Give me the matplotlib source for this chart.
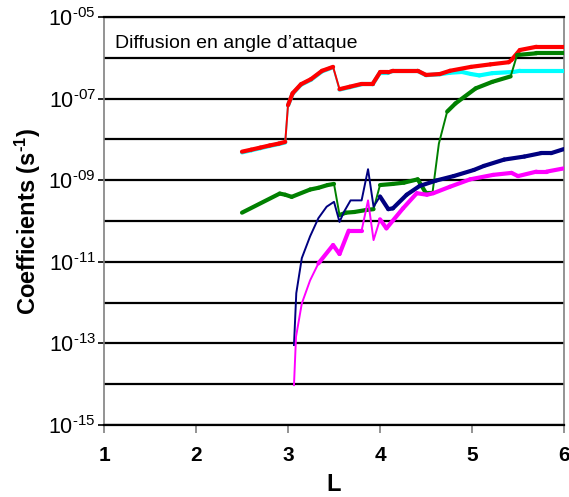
import matplotlib
matplotlib.use("Agg")
import matplotlib.pyplot as plt
from matplotlib.collections import LineCollection
from matplotlib.ticker import FixedLocator, NullFormatter
import numpy as np

plt.rcParams['font.family'] = ['Liberation Sans', 'DejaVu Sans']
plt.rcParams['mathtext.fontset'] = 'custom'
plt.rcParams['mathtext.rm'] = 'Liberation Sans'
plt.rcParams['mathtext.bf'] = 'Liberation Sans:bold'
plt.rcParams['mathtext.default'] = 'regular'

# values (coefficient in s^-1 versus L)
red_L = [2.50, 2.60, 2.70, 2.80, 2.90, 2.97, 3.00, 3.05, 3.14, 3.25, 3.37, 3.49,
         3.56, 3.67, 3.80, 3.92, 4.00, 4.09, 4.14, 4.41, 4.50, 4.65, 4.76, 4.99,
         5.20, 5.40, 5.43, 5.52, 5.70, 6.00]
red_v = [5.0e-9, 5.6e-9, 6.3e-9, 7.1e-9, 7.9e-9, 8.7e-9, 6.9e-8, 1.35e-7, 2.24e-7,
         3.0e-7, 4.8e-7, 6.0e-7, 1.70e-7, 1.95e-7, 2.29e-7, 2.29e-7, 4.4e-7, 4.4e-7,
         4.8e-7, 4.8e-7, 3.8e-7, 4.0e-7, 4.8e-7, 6.0e-7, 6.9e-7, 7.8e-7, 8.9e-7,
         1.55e-6, 1.86e-6, 1.86e-6]

cyan_L = [2.50, 2.60, 2.70, 2.80, 2.90, 2.97, 3.00, 3.05, 3.14, 3.25, 3.37, 3.49,
          3.56, 3.67, 3.80, 3.92, 4.00, 4.09, 4.14, 4.41, 4.50, 4.65, 4.76, 4.89,
          4.99, 5.08, 5.22, 5.45, 5.52, 6.00]
cyan_v = [4.8e-9, 5.4e-9, 6.1e-9, 6.9e-9, 7.7e-9, 8.4e-9, 6.8e-8, 1.32e-7, 2.18e-7,
          2.9e-7, 4.65e-7, 5.85e-7, 1.66e-7, 1.9e-7, 2.24e-7, 2.24e-7, 4.35e-7,
          4.35e-7, 4.75e-7, 4.75e-7, 3.75e-7, 3.95e-7, 4.3e-7, 4.5e-7, 4.0e-7,
          3.7e-7, 4.2e-7, 4.5e-7, 4.8e-7, 4.8e-7]

green_L = [2.50, 2.91, 2.97, 3.04, 3.24, 3.33, 3.43, 3.50, 3.56, 3.63, 3.72, 3.85,
           3.93, 4.00, 4.14, 4.26, 4.41, 4.50, 4.57, 4.64, 4.73, 4.82, 5.04, 5.22,
           5.42, 5.49, 5.70, 6.00]
green_v = [1.6e-10, 4.7e-10, 4.4e-10, 3.9e-10, 5.9e-10, 6.5e-10, 7.6e-10, 8.1e-10,
           1.4e-10, 1.6e-10, 1.66e-10, 1.86e-10, 1.95e-10, 7.6e-10, 8.1e-10, 8.7e-10,
           1.05e-9, 4.8e-10, 4.8e-10, 7.9e-9, 4.8e-8, 7.6e-8, 1.78e-7, 2.57e-7,
           3.5e-7, 1.17e-6, 1.29e-6, 1.29e-6]

navy_L = [3.065, 3.09, 3.15, 3.24, 3.33, 3.42, 3.50, 3.56, 3.61, 3.68, 3.80, 3.87,
          3.93, 4.00, 4.09, 4.14, 4.29, 4.43, 4.61, 4.80, 5.02, 5.13, 5.35, 5.57,
          5.75, 5.86, 6.00]
navy_v = [9.1e-14, 1.7e-12, 1.23e-11, 4.2e-11, 1.17e-10, 2.24e-10, 2.95e-10,
          9.5e-11, 1.7e-10, 3.2e-10, 3.2e-10, 1.86e-9, 2.24e-10, 4.0e-10, 1.95e-10,
          2.04e-10, 4.4e-10, 7.2e-10, 9.8e-10, 1.26e-9, 1.78e-9, 2.24e-9, 3.2e-9,
          3.8e-9, 4.6e-9, 4.6e-9, 5.8e-9]

mag_L = [3.065, 3.087, 3.15, 3.24, 3.33, 3.49, 3.56, 3.66, 3.80, 3.87, 3.93, 4.00,
         4.07, 4.25, 4.40, 4.51, 4.58, 4.76, 4.98, 5.23, 5.43, 5.50, 5.70, 5.81, 6.00]
mag_v = [9.5e-15, 1.45e-13, 9.5e-13, 3.5e-12, 9.1e-12, 2.57e-11, 1.55e-11, 5.8e-11,
         5.8e-11, 3.2e-10, 3.4e-11, 1.1e-10, 6.6e-11, 2.04e-10, 4.8e-10, 4.4e-10,
         4.8e-10, 6.9e-10, 1.05e-9, 1.35e-9, 1.51e-9, 1.26e-9, 1.62e-9, 1.62e-9,
         1.95e-9]

label_exps = [-15, -13, -11, -9, -7, -5]
grid_exps = [-14, -12, -10, -8, -6]

fig = plt.figure(figsize=(5.69, 4.97), dpi=100)
ax = fig.add_axes([0.1828, 0.1449, 0.8084, 0.8209])
ax.set_yscale('log')


def draw(L, v, color, z, thin_before=None):
    L = np.asarray(L)
    v = np.asarray(v)
    # thin line everywhere, thick on the segments that are not steep
    ax.plot(L, v, color=color, lw=1.4, zorder=z)
    lg = np.log10(v)
    segs = []
    for i in range(len(L) - 1):
        slope = abs(lg[i + 1] - lg[i]) * 40.8 / ((L[i + 1] - L[i]) * 92)
        if slope > 3:
            continue
        if thin_before is not None and L[i] < thin_before:
            continue
        segs.append([(L[i], v[i]), (L[i + 1], v[i + 1])])
    lc = LineCollection(segs, colors=color, linewidths=3, capstyle='round',
                        joinstyle='round', zorder=z)
    ax.add_collection(lc)


draw(cyan_L, cyan_v, '#00FFFF', 3)
draw(red_L, red_v, '#FF0000', 4)
draw(green_L, green_v, '#008000', 5)
draw(navy_L, navy_v, '#000080', 6, thin_before=3.95)
draw(mag_L, mag_v, '#FF00FF', 7, thin_before=3.3)

ax.set_xlim(1, 6)
ax.set_ylim(1e-15, 1e-5)
ax.set_xticks([1, 2, 3, 4, 5, 6])
ax.set_xticklabels(['1', '2', '3', '4', '5', '6'], fontsize=15, fontweight='bold')
ax.yaxis.set_major_locator(FixedLocator([10.0 ** e for e in label_exps]))
ax.yaxis.set_minor_locator(FixedLocator([10.0 ** e for e in grid_exps]))
ax.yaxis.set_minor_formatter(NullFormatter())
ax.set_yticklabels(['10$^{\u2010%02d}$' % (-e) for e in label_exps], fontsize=15.5)

ax.grid(True, which='both', axis='y', color='black', lw=1.6, zorder=1)
ax.set_axisbelow(True)
ax.tick_params(axis='x', direction='out', length=6, width=1.2, color='#808080', pad=9)
ax.tick_params(axis='y', which='major', direction='out', length=4, width=1.2,
               color='black', pad=2)
ax.tick_params(axis='y', which='minor', length=0)

for s in ['left', 'right']:
    ax.spines[s].set_color('#808080')
    ax.spines[s].set_linewidth(1.2)
ax.spines['top'].set_color('black')
ax.spines['bottom'].set_color('black')
ax.spines['top'].set_linewidth(1.6)
ax.spines['bottom'].set_linewidth(1.6)

ax.text(1.12, 2.3e-6, 'Diffusion en angle d\u2019attaque', fontsize=14, va='center')

ax.set_xlabel('L', fontsize=17, fontweight='bold', labelpad=6)
ax.set_ylabel('Coefficients (s$^{\\mathbf{\u20101}}$)', fontsize=17, fontweight='bold',
              labelpad=4)

fig.savefig('out.png', dpi=100)
